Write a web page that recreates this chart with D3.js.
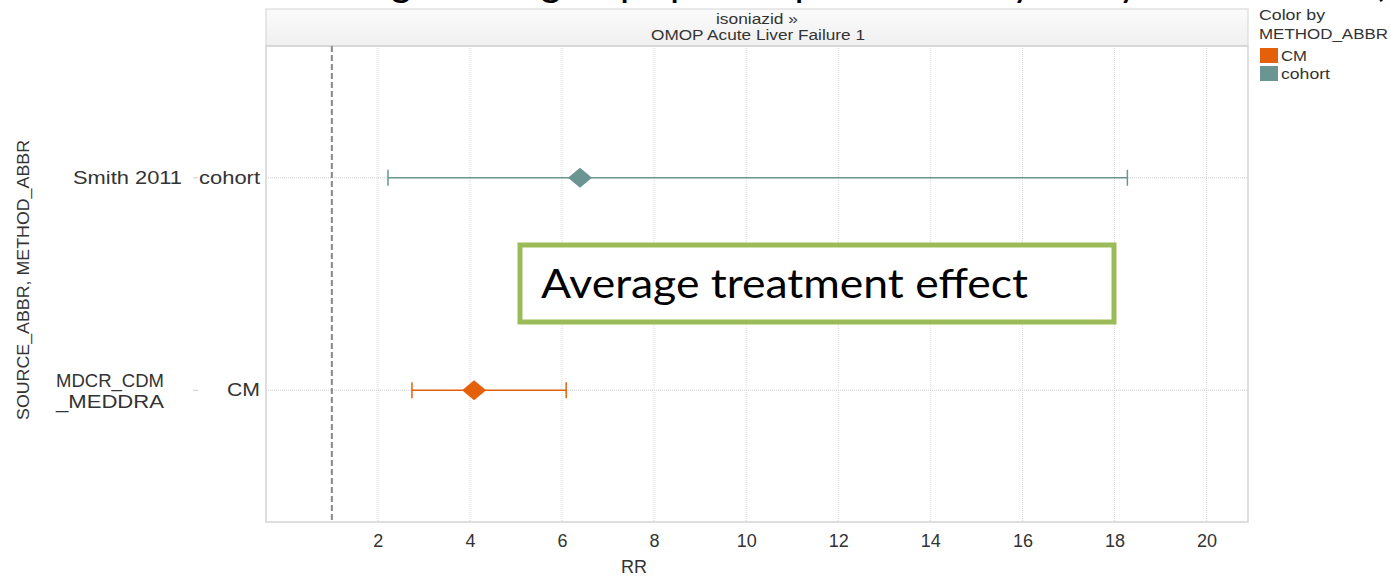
<!DOCTYPE html>
<html>
<head>
<meta charset="utf-8">
<script src="https://cdn.jsdelivr.net/npm/d3@7"></script>
<style>
  body { margin: 0; background: #fff; }
  svg { display: block; font-family: Arial, "Liberation Sans", sans-serif; }
</style>
</head>
<body>
<div id="chart"></div>
<script>
// data
const sources = ["Smith 2011", "MDCR_CDM\n_MEDDRA"];
const methods = ["cohort", "CM"];
const rr = [6.39, 4.09];
const lower = [2.22, 2.74];
const upper = [18.28, 6.09];
const xTicks = [2, 4, 6, 8, 10, 12, 14, 16, 18, 20];
const legendItems = ["CM", "cohort"];
const refLine = 1;

const width = 1390, height = 576;
const plot = { left: 266, right: 1248, top: 46, bottom: 522 };

const svg = d3.select('#chart').append('svg')
  .attr('width', width)
  .attr('height', height);

const color = d3.scaleOrdinal()
  .domain(legendItems)
  .range(['#e5600a', '#6a9590']);

const x = d3.scaleLinear()
  .domain([-0.43, 20.9])
  .range([plot.left, plot.right]);

const y = d3.scalePoint()
  .domain(methods)
  .range([plot.top, plot.bottom])
  .padding(0.62);

// stretched label helper (the screenshot is scaled wider than tall)
function label(g, txt, px, py, size, len, anchor) {
  const t = g.append('text')
    .attr('x', px).attr('y', py)
    .attr('font-size', size).attr('fill', '#333')
    .attr('text-anchor', anchor || 'start')
    .text(txt);
  if (len) t.attr('textLength', len).attr('lengthAdjust', 'spacingAndGlyphs');
  return t;
}

// slide title, cut off at the top of the picture
svg.append('text')
  .attr('x', 1384).attr('y', -4)
  .attr('text-anchor', 'end')
  .attr('font-family', 'Lato, sans-serif')
  .attr('font-size', 40)
  .attr('fill', '#000')
  .text('Drilling down: group specific p\u00A0\u00A0\u00A0\u00A0\u00A0 effect by study\u00A0\u00A0\u00A0\u00A0\u00A0\u00A0\u00A0\u00A0\u00A0\u00A0\u00A0\u00A0\u00A0\u00A0\u00A0\u00A0\u00A0\u00A0\u00A0\u00A0\u00A0\u00A0 (');

// header strip
const grad = svg.append('defs').append('linearGradient')
  .attr('id', 'hdr').attr('x1', 0).attr('y1', 0).attr('x2', 0).attr('y2', 1);
grad.append('stop').attr('offset', '0%').attr('stop-color', '#fbfbfb');
grad.append('stop').attr('offset', '100%').attr('stop-color', '#f0f0f0');

svg.append('rect')
  .attr('x', plot.left).attr('y', 9)
  .attr('width', plot.right - plot.left).attr('height', plot.top - 9)
  .attr('fill', 'url(#hdr)')
  .attr('stroke', '#d4d4d4');

label(svg, 'isoniazid \u00BB', 757, 24, 14, 82, 'middle');
label(svg, 'OMOP Acute Liver Failure 1', 758, 40, 14, 214, 'middle');

// plot frame
svg.append('rect')
  .attr('x', plot.left).attr('y', plot.top)
  .attr('width', plot.right - plot.left).attr('height', plot.bottom - plot.top)
  .attr('fill', 'none')
  .attr('stroke', '#d4d4d4')
  .attr('stroke-width', 1.5);

// grid
svg.append('g').selectAll('line')
  .data(xTicks).join('line')
  .attr('x1', d => x(d)).attr('x2', d => x(d))
  .attr('y1', plot.top).attr('y2', plot.bottom)
  .attr('stroke', '#d9d9d9')
  .attr('stroke-dasharray', '1,1');

svg.append('g').selectAll('line')
  .data(methods).join('line')
  .attr('x1', plot.left).attr('x2', plot.right)
  .attr('y1', d => y(d)).attr('y2', d => y(d))
  .attr('stroke', '#cfcfcf')
  .attr('stroke-dasharray', '1,1');

// reference line at RR = 1
svg.append('line')
  .attr('x1', x(refLine)).attr('x2', x(refLine))
  .attr('y1', plot.top).attr('y2', plot.bottom)
  .attr('stroke', '#888')
  .attr('stroke-width', 2)
  .attr('stroke-dasharray', '6,3');

// x axis
const xAxis = svg.append('g')
  .attr('transform', `translate(0,${plot.bottom})`)
  .call(d3.axisBottom(x).tickValues(xTicks).tickSize(0).tickPadding(12));
xAxis.select('.domain').remove();
xAxis.selectAll('text')
  .attr('font-size', 18)
  .attr('font-family', 'Arial, "Liberation Sans", sans-serif')
  .attr('fill', '#333');

label(svg, 'RR', 634, 573, 18, null, 'middle');

// row headers
const rows = svg.append('g');
const methodLen = { cohort: 61, CM: 33 };
methods.forEach((m, i) => {
  const yy = y(m);
  label(rows, m, 260, yy + 6, 18, methodLen[m], 'end');
  rows.append('line')
    .attr('x1', 193).attr('x2', 198)
    .attr('y1', yy).attr('y2', yy)
    .attr('stroke', '#ccc');
  const parts = sources[i].split('\n');
  if (parts.length === 1) {
    label(rows, parts[0], 182, yy + 6, 18, 109, 'end');
  } else {
    parts.forEach((p, j) => {
      label(rows, p, 56, yy - 3 + j * 21, 18, 108);
    });
  }
});

label(svg, 'SOURCE_ABBR, METHOD_ABBR', 0, 0, 17, 280, 'middle')
  .attr('transform', 'translate(29,280) rotate(-90)');

// error bars + diamonds
const marks = svg.append('g');
methods.forEach((m, i) => {
  const c = color(m);
  const yy = y(m);
  marks.append('line')
    .attr('x1', x(lower[i])).attr('x2', x(upper[i]))
    .attr('y1', yy).attr('y2', yy)
    .attr('stroke', c).attr('stroke-width', 1.5);
  [lower[i], upper[i]].forEach(v => {
    marks.append('line')
      .attr('x1', x(v)).attr('x2', x(v))
      .attr('y1', yy - 8).attr('y2', yy + 8)
      .attr('stroke', c).attr('stroke-width', 1.5);
  });
  marks.append('path')
    .attr('d', `M${x(rr[i]) - 12},${yy} L${x(rr[i])},${yy - 10} L${x(rr[i]) + 12},${yy} L${x(rr[i])},${yy + 10} Z`)
    .attr('fill', c);
});

// legend
const lg = svg.append('g');
label(lg, 'Color by', 1259, 20, 15, 66);
label(lg, 'METHOD_ABBR', 1259, 39, 15, 129);
const legLen = { CM: 26, cohort: 49 };
legendItems.forEach((k, i) => {
  lg.append('rect')
    .attr('x', 1260).attr('y', 48 + i * 18)
    .attr('width', 18).attr('height', 15)
    .attr('fill', color(k));
  label(lg, k, 1281, 61 + i * 18, 15, legLen[k]);
});

// callout box
svg.append('rect')
  .attr('x', 520).attr('y', 245)
  .attr('width', 594).attr('height', 77)
  .attr('fill', '#fff')
  .attr('stroke', '#9bbb59')
  .attr('stroke-width', 5);
svg.append('text')
  .attr('x', 541).attr('y', 298)
  .attr('font-family', 'Lato, "Open Sans", sans-serif')
  .attr('font-size', 40)
  .attr('fill', '#000')
  .attr('textLength', 487)
  .attr('lengthAdjust', 'spacingAndGlyphs')
  .text('Average treatment effect');
</script>
</body>
</html>
